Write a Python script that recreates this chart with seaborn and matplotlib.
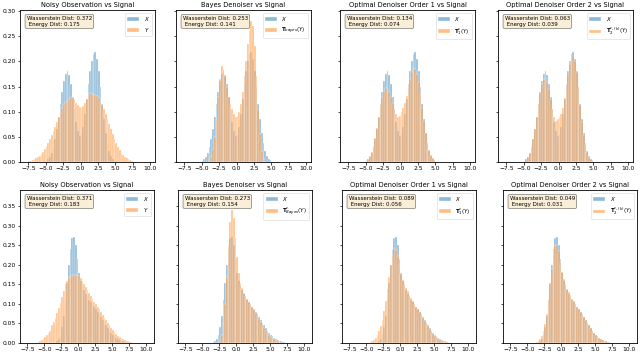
import numpy as np
import pandas as pd
import seaborn as sns
import matplotlib.pyplot as plt

BIN = 0.25

# ---- top row (bimodal signal) : density per 0.25 bin, listed from a start edge
X_TOP_START = -5.0
X_TOP = [0.002, 0.005, 0.010, 0.018, 0.030, 0.045, 0.065, 0.090, 0.115, 0.140,
         0.160, 0.175, 0.180, 0.172, 0.155, 0.130, 0.105, 0.080, 0.062, 0.052,
         0.055, 0.070, 0.095, 0.125, 0.155, 0.180, 0.200, 0.215, 0.218, 0.205,
         0.180, 0.150, 0.115, 0.085, 0.058, 0.038, 0.022, 0.012, 0.006, 0.003]

NOISY_TOP_START = -7.5
NOISY_TOP = [0.001, 0.002, 0.003, 0.005, 0.007, 0.009, 0.012, 0.016, 0.020, 0.025,
             0.031, 0.038, 0.045, 0.053, 0.061, 0.070, 0.080, 0.090, 0.100, 0.108,
             0.115, 0.119, 0.122, 0.126, 0.130, 0.127, 0.124, 0.118, 0.113, 0.109,
             0.108, 0.112, 0.118, 0.125, 0.131, 0.137, 0.135, 0.136, 0.134, 0.132,
             0.128, 0.122, 0.114, 0.105, 0.095, 0.085, 0.075, 0.065, 0.055, 0.046,
             0.038, 0.030, 0.024, 0.018, 0.014, 0.010, 0.007, 0.005, 0.003, 0.002]

BAYES_TOP_START = -4.0
BAYES_TOP = [0.003, 0.010, 0.025, 0.050, 0.085, 0.130, 0.165, 0.190, 0.185, 0.170,
             0.150, 0.130, 0.115, 0.105, 0.095, 0.090, 0.092, 0.100, 0.115, 0.140,
             0.170, 0.200, 0.235, 0.260, 0.280, 0.270, 0.230, 0.170, 0.105, 0.055,
             0.022, 0.007]

ORD1_TOP_START = -5.0
ORD1_TOP = [0.003, 0.006, 0.012, 0.020, 0.032, 0.048, 0.068, 0.090, 0.112, 0.130,
            0.142, 0.148, 0.146, 0.140, 0.130, 0.118, 0.105, 0.095, 0.090, 0.092,
            0.100, 0.108, 0.118, 0.132, 0.148, 0.165, 0.178, 0.186, 0.185, 0.175,
            0.158, 0.135, 0.108, 0.082, 0.058, 0.038, 0.023, 0.013, 0.007, 0.003]

ORD2_TOP_START = -5.0
ORD2_TOP = [0.002, 0.005, 0.010, 0.018, 0.030, 0.046, 0.066, 0.090, 0.115, 0.138,
            0.155, 0.165, 0.166, 0.158, 0.145, 0.125, 0.105, 0.090, 0.082, 0.085,
            0.090, 0.095, 0.108, 0.128, 0.152, 0.175, 0.195, 0.207, 0.210, 0.200,
            0.178, 0.148, 0.113, 0.080, 0.053, 0.033, 0.019, 0.010, 0.005, 0.002]

# ---- bottom row (skewed signal)
X_BOT_START = -3.5
X_BOT = [0.002, 0.005, 0.010, 0.020, 0.040, 0.070, 0.110, 0.155, 0.200, 0.240,
         0.268, 0.272, 0.250, 0.215, 0.180, 0.160, 0.145, 0.135, 0.125, 0.118,
         0.110, 0.104, 0.098, 0.092, 0.087, 0.080, 0.074, 0.067, 0.060, 0.052,
         0.045, 0.038, 0.032, 0.026, 0.021, 0.017, 0.013, 0.010, 0.008, 0.006,
         0.004, 0.003, 0.002, 0.001]

NOISY_BOT_START = -6.0
NOISY_BOT = [0.003, 0.005, 0.008, 0.011, 0.015, 0.020, 0.026, 0.032, 0.045, 0.054,
             0.065, 0.078, 0.090, 0.102, 0.117, 0.133, 0.150, 0.160, 0.167, 0.172,
             0.174, 0.175, 0.175, 0.174, 0.172, 0.167, 0.160, 0.152, 0.144, 0.136,
             0.128, 0.120, 0.113, 0.106, 0.099, 0.092, 0.086, 0.079, 0.072, 0.065,
             0.058, 0.051, 0.045, 0.039, 0.033, 0.028, 0.023, 0.019, 0.015, 0.012,
             0.009, 0.007, 0.005, 0.004, 0.003, 0.002]

BAYES_BOT_START = -2.5
BAYES_BOT = [0.005, 0.020, 0.050, 0.100, 0.170, 0.250, 0.310, 0.340, 0.320, 0.270,
             0.220, 0.180, 0.155, 0.140, 0.128, 0.120, 0.113, 0.106, 0.099, 0.092,
             0.085, 0.078, 0.070, 0.062, 0.054, 0.046, 0.039, 0.032, 0.026, 0.021,
             0.016, 0.012, 0.009, 0.006, 0.004, 0.003, 0.002]

ORD1_BOT_START = -4.5
ORD1_BOT = [0.002, 0.004, 0.008, 0.013, 0.020, 0.030, 0.043, 0.060, 0.082, 0.108,
            0.138, 0.170, 0.200, 0.225, 0.240, 0.238, 0.222, 0.200, 0.178, 0.162,
            0.150, 0.140, 0.132, 0.124, 0.116, 0.108, 0.100, 0.093, 0.086, 0.079,
            0.072, 0.064, 0.057, 0.050, 0.043, 0.036, 0.030, 0.024, 0.019, 0.015,
            0.011, 0.008, 0.006, 0.004, 0.003, 0.002, 0.001]

ORD2_BOT_START = -3.75
ORD2_BOT = [0.002, 0.005, 0.010, 0.018, 0.030, 0.048, 0.075, 0.110, 0.150, 0.190,
            0.225, 0.248, 0.252, 0.236, 0.208, 0.182, 0.163, 0.150, 0.139, 0.130,
            0.122, 0.114, 0.107, 0.100, 0.093, 0.087, 0.080, 0.073, 0.066, 0.059,
            0.052, 0.045, 0.038, 0.032, 0.026, 0.021, 0.017, 0.013, 0.010, 0.007,
            0.005, 0.004, 0.003, 0.002]

TITLES = ["Noisy Observation vs Signal", "Bayes Denoiser vs Signal",
          "Optimal Denoiser Order 1 vs Signal", "Optimal Denoiser Order 2 vs Signal"]
LABELS_TOP = ["$Y$", r"$\mathbf{T}_{bayes}(Y)$", r"$\mathbf{T}^{*}_{1}(Y)$", r"$\mathbf{T}_{2}^{*,(k)}(Y)$"]
LABELS_BOT = ["$Y$", r"$\mathbf{T}^{*}_{Bayes}(Y)$", r"$\mathbf{T}^{*}_{1}(Y)$", r"$\mathbf{T}_{2}^{*,(k)}(Y)$"]
W_TOP = [0.372, 0.253, 0.134, 0.063]
E_TOP = [0.175, 0.141, 0.074, 0.039]
W_BOT = [0.371, 0.273, 0.089, 0.049]
E_BOT = [0.183, 0.154, 0.056, 0.031]

XTICKS = [-7.5, -5.0, -2.5, 0.0, 2.5, 5.0, 7.5, 10.0]


def draw_hist(ax, start, heights, color, label):
    heights = np.asarray(heights, dtype=float)
    edges = start + BIN * np.arange(len(heights) + 1)
    df = pd.DataFrame({"x": edges[:-1] + BIN / 2, "h": heights})
    sns.histplot(data=df, x="x", weights="h", bins=list(edges), ax=ax, color=color,
                 alpha=0.5, edgecolor="white", linewidth=0.25, label=label)


plt.rcParams["font.size"] = 4.5
fig = plt.figure(figsize=(6.4, 3.52), dpi=100)
FW, FH = 640, 352


def add_ax(left, top, width, height):
    return fig.add_axes([left / FW, 1 - (top + height) / FH, width / FW, height / FH])


rows = [
    dict(top=10, height=152, lefts=[20, 176, 340, 498], width=135,
         x=(X_TOP_START, X_TOP),
         ys=[(NOISY_TOP_START, NOISY_TOP), (BAYES_TOP_START, BAYES_TOP),
             (ORD1_TOP_START, ORD1_TOP), (ORD2_TOP_START, ORD2_TOP)],
         labels=LABELS_TOP, w=W_TOP, e=E_TOP, ylim=(0, 0.302),
         yticks=[0, 0.05, 0.10, 0.15, 0.20, 0.25, 0.30], xlim=(-8.7, 10.7)),
    dict(top=190, height=153, lefts=[20, 178, 342, 503], width=134,
         x=(X_BOT_START, X_BOT),
         ys=[(NOISY_BOT_START, NOISY_BOT), (BAYES_BOT_START, BAYES_BOT),
             (ORD1_BOT_START, ORD1_BOT), (ORD2_BOT_START, ORD2_BOT)],
         labels=LABELS_BOT, w=W_BOT, e=E_BOT, ylim=(0, 0.392),
         yticks=[0, 0.05, 0.10, 0.15, 0.20, 0.25, 0.30, 0.35], xlim=(-8.6, 11.2)),
]

for row in rows:
    for j in range(4):
        ax = add_ax(row["lefts"][j], row["top"], row["width"], row["height"])
        draw_hist(ax, row["x"][0], row["x"][1], "tab:blue", "$X$")
        draw_hist(ax, row["ys"][j][0], row["ys"][j][1], "tab:orange", row["labels"][j])
        ax.set_xlim(*row["xlim"])
        ax.set_ylim(*row["ylim"])
        ax.set_xticks(XTICKS)
        ax.set_yticks(row["yticks"])
        ax.set_xlabel("")
        ax.set_ylabel("")
        ax.set_title(TITLES[j], fontsize=4.8, pad=2.5)
        ax.tick_params(length=1.8, width=0.5, pad=1.0, labelsize=4.3)
        if j > 0:
            ax.tick_params(labelleft=False)
        for s in ax.spines.values():
            s.set_linewidth(0.6)
        txt = f"Wasserstein Dist: {row['w'][j]:.3f}\n Energy Dist: {row['e'][j]:.3f}"
        ax.text(0.05, 0.96, txt, transform=ax.transAxes, fontsize=4, va="top",
                bbox=dict(boxstyle="round", facecolor="wheat", alpha=0.5, linewidth=0.5))
        leg = ax.legend(loc="upper right", fontsize=4, handlelength=2.2,
                        borderpad=0.4, labelspacing=0.5)
        leg.get_frame().set_linewidth(0.4)

plt.savefig("out.png", dpi=100)
